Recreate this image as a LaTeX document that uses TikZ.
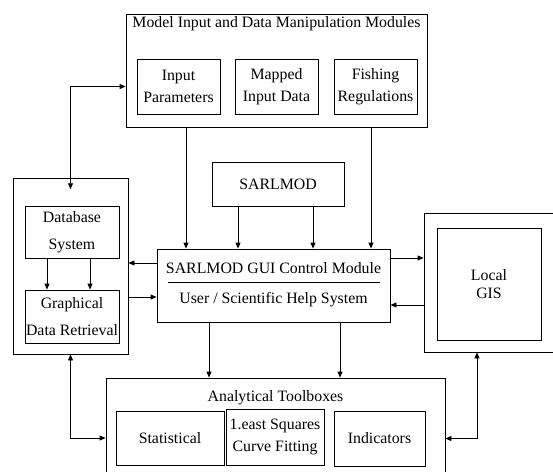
\documentclass[tikz,border=0pt]{standalone}
\usepackage{fontspec}
\setmainfont{Liberation Serif}
\usetikzlibrary{positioning,arrows.meta}

\begin{document}
\begin{tikzpicture}[
  x=0.6pt, y=-0.6pt,
  every node/.style={font=\fontsize{9.5}{13}\selectfont},
  box/.style={draw, line width=0.5pt, inner sep=0pt, align=center},
  sub/.style={box, minimum width=49.8pt, minimum height=33pt},
  lbl/.style={inner sep=0pt, align=center},
  arrow/.style={-{Triangle[length=3.6pt,width=3pt]}, line width=0.5pt},
  dblarrow/.style={{Triangle[length=3.6pt,width=3pt]}-{Triangle[length=3.6pt,width=3pt]}, line width=0.5pt}
]
\useasboundingbox (0,0) rectangle (553,471);

% model input modules
\node[box, minimum width=180.6pt, minimum height=67.8pt] (model) at (276.5,70.5) {};
\node[lbl] (modeltitle) at (276.5,24) {Model Input and Data Manipulation Modules};
\node[sub] (ip) at (178.5,86.5) {Input\\Parameters};
\node[sub] (mid) at (276.5,86.5) {Mapped\\Input Data};
\node[sub] (fr) at (375.5,86.5) {Fishing\\Regulations};

% database side
\node[box, minimum width=69pt, minimum height=105.6pt] (left) at (70.5,266) {};
\node[box, minimum width=56.4pt, minimum height=31.2pt] (db) at (72,232) {Database\\[3pt]System};
\node[box, minimum width=56.4pt, minimum height=31.8pt] (gdr) at (72,316.5) {Graphical\\[3pt]Data Retrieval};

% core
\node[box, minimum width=79.2pt, minimum height=26.4pt] (sarl) at (278,184) {SARLMOD};
\node[box, minimum width=139.8pt, minimum height=43.8pt] (gui) at (273.5,285.5) {};
\node[lbl] (guitop) at (273.5,268) {SARLMOD GUI Control Module};
\node[lbl] (guibot) at (273.5,300) {User / Scientific Help System};
\draw[line width=0.5pt] ([xshift=6.6pt,yshift=2.1pt]gui.west) -- ([xshift=-6pt,yshift=2.1pt]gui.east);

% gis
\node[box, minimum width=79.2pt, minimum height=83.4pt] (gisout) at (490,282.5) {};
\node[box, minimum width=62.4pt, minimum height=67.2pt] (gis) at (489,284) {Local\\[-2pt]GIS};

% toolboxes
\node[box, minimum width=203.4pt, minimum height=57.6pt] (tool) at (275.5,426) {};
\node[lbl] (tooltitle) at (275.5,398) {Analytical Toolboxes};
\node[box, minimum width=64.8pt, minimum height=32.4pt] (stat) at (170,438) {Statistical};
\node[box, minimum width=58.8pt, minimum height=33.6pt] (lsq) at (275,437) {1.east Squares\\Curve Fitting};
\node[box, minimum width=54.6pt, minimum height=33pt] (ind) at (379.5,438.5) {Indicators};

% connectors
\draw[arrow] (model.south -| 186,0) -- (gui.north -| 186,0);
\draw[arrow] (model.south -| 371,0) -- (gui.north -| 371,0);
\draw[arrow] (sarl.south -| 238,0) -- (gui.north -| 238,0);
\draw[arrow] (sarl.south -| 313,0) -- (gui.north -| 313,0);
\draw[arrow] (gui.west |- 0,263) -- (left.east |- 0,263);
\draw[arrow] (left.east |- 0,297) -- (gui.west |- 0,297);
\draw[arrow] (gui.east |- 0,258) -- (gisout.west |- 0,258);
\draw[arrow] (gisout.west |- 0,305) -- (gui.east |- 0,305);
\draw[arrow] (db.south -| 47,0) -- (gdr.north -| 47,0);
\draw[arrow] (db.south -| 90,0) -- (gdr.north -| 90,0);
\draw[arrow] (gui.south -| 209,0) -- (tool.north -| 209,0);
\draw[arrow] (gui.south -| 340,0) -- (tool.north -| 340,0);
\draw[dblarrow] (model.west |- ip.west) -| ([yshift=-7pt]left.north);
\draw[dblarrow] (left.south) |- (tool.west |- stat.west);
\draw[dblarrow] ([xshift=-7.8pt]gisout.south) |- (tool.east |- ind.east);
\end{tikzpicture}
\end{document}
